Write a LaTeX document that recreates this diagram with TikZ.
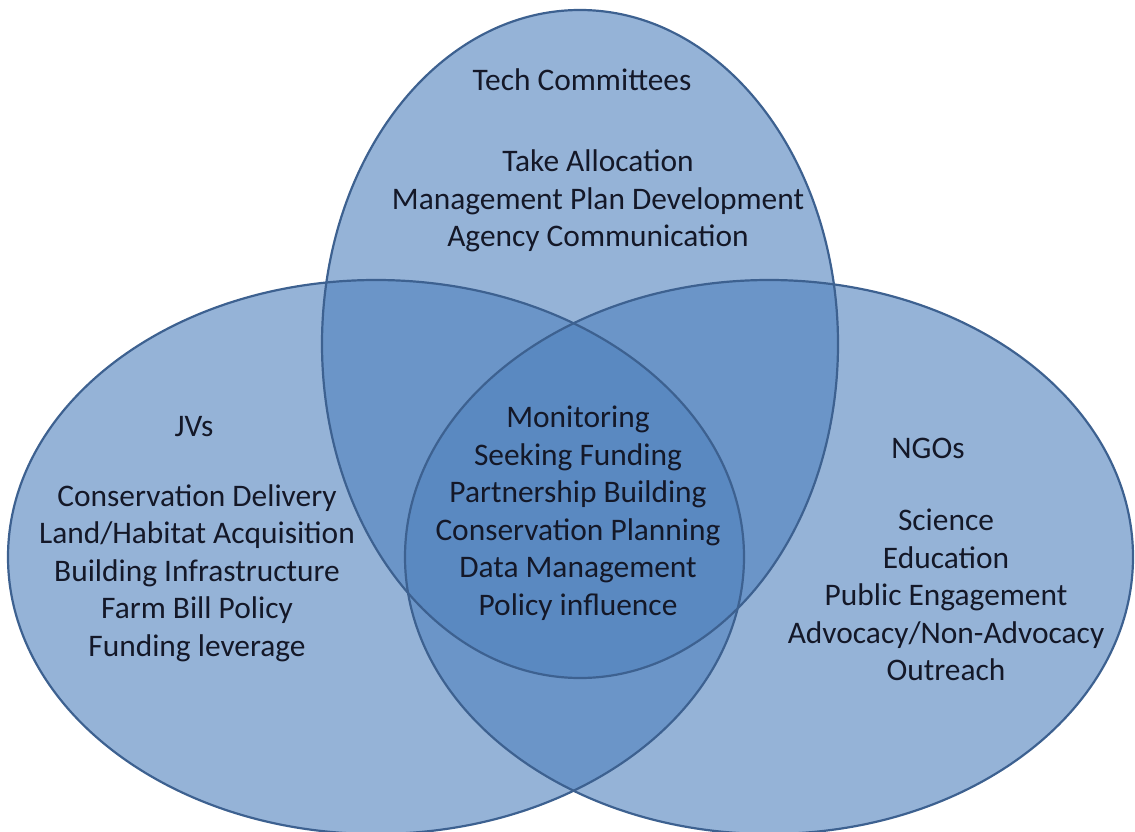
\documentclass[tikz,border=0pt]{standalone}
\usepackage{fontspec}
\setmainfont{Carlito}
\usetikzlibrary{shapes.geometric}
\definecolor{vennfill}{HTML}{4F81BD}
\definecolor{vennline}{HTML}{3D6190}
\definecolor{txt}{HTML}{141828}
\tikzset{
  vennset/.style={ellipse, inner sep=0pt, fill=vennfill, fill opacity=0.6, draw=none},
  vennedge/.style={draw=vennline, line width=2.2pt},
  lbl/.style={align=center, text=txt, inner sep=0pt, font=\fontsize{31.4}{37.5}\selectfont}
}
\begin{document}
\begin{tikzpicture}[x=1pt,y=-1pt]
\useasboundingbox (0,0) rectangle (1135,832);
% sets
\node[vennset, minimum width=736pt, minimum height=554pt] (jv) at (376,557) {};
\node[vennset, minimum width=728pt, minimum height=554pt] (ngo) at (769,557) {};
\node[vennset, minimum width=516pt, minimum height=668pt] (tech) at (580,344) {};
% outlines
\draw[vennedge] (jv.center) ellipse [x radius=368, y radius=277];
\draw[vennedge] (ngo.center) ellipse [x radius=364, y radius=277];
\draw[vennedge] (tech.center) ellipse [x radius=258, y radius=334];
% texts
\node[lbl] (techhead) at (582,80) {Tech Committees};
\node[lbl] (techlist) at (598,201) {Take Allocation\\Management Plan Development\\Agency Communication};
\node[lbl] (core) at (578,513) {Monitoring\\Seeking Funding\\Partnership Building\\Conservation Planning\\Data Management\\Policy influence};
\node[lbl] (jvhead) at (194,427) {JVs};
\node[lbl] (jvlist) at (197,573) {Conservation Delivery\\Land/Habitat Acquisition\\Building Infrastructure\\Farm Bill Policy\\Funding leverage};
\node[lbl] (ngohead) at (928,448) {NGOs};
\node[lbl] (ngolist) at (946,595) {Science\\Education\\Public Engagement\\Advocacy/Non-Advocacy\\Outreach};
\end{tikzpicture}
\end{document}
